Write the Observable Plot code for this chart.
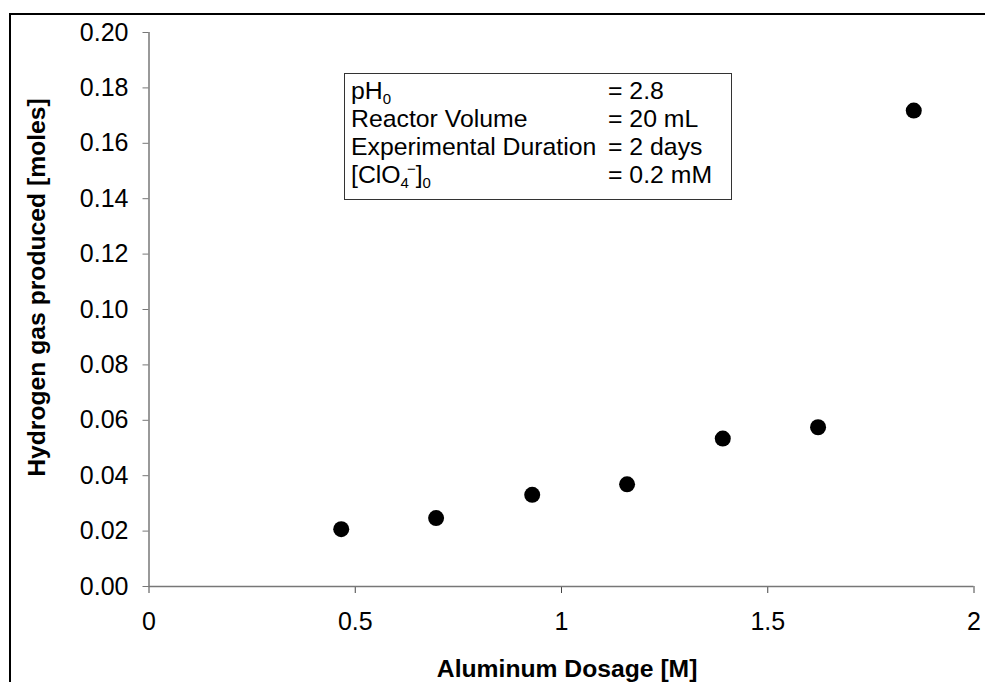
<!DOCTYPE html>
<html><head><meta charset="utf-8">
<script src="https://cdn.jsdelivr.net/npm/d3@7"></script>
<script src="https://cdn.jsdelivr.net/npm/@observablehq/plot@0.6"></script>
<style>
html,body{margin:0;padding:0;background:#fff;overflow:hidden;width:985px;height:682px;}
#wrap{position:relative;width:985px;height:682px;font-family:"Liberation Sans",Arial,sans-serif;color:#000;}
#wrap svg{position:absolute;left:0;top:0;}
#frame{position:absolute;left:9px;top:13px;width:1000px;height:700px;border:2px solid #000;box-sizing:border-box;pointer-events:none;}
#note{position:absolute;left:344px;top:73px;width:388px;height:127px;box-sizing:border-box;border:1px solid #333;background:#fff;font-size:24.8px;line-height:28px;padding:3px 0 0 6px;}
.row{display:flex;white-space:nowrap;}
.k{width:257px;}
sub{font-size:15px;vertical-align:-5px;line-height:0;}
sup{font-size:15px;vertical-align:9px;line-height:0;}
</style>
</head><body>
<div id="wrap"><div id="frame"></div><div id="note"></div></div>
<script>
// Data
const dosage = [0.466, 0.696, 0.929, 1.159, 1.391, 1.622, 1.854];       // Aluminum Dosage [M]
const hydrogen = [0.0207, 0.0247, 0.0331, 0.0369, 0.0534, 0.0575, 0.1718]; // H2 produced [moles]
const xTicks = [0, 0.5, 1, 1.5, 2];
const yTicks = [0, 0.02, 0.04, 0.06, 0.08, 0.10, 0.12, 0.14, 0.16, 0.18, 0.20];
const xLabel = "Aluminum Dosage [M]";
const yLabel = "Hydrogen gas produced [moles]";
const noteKeys = ["pH<sub>0</sub>", "Reactor Volume", "Experimental Duration", "[ClO<sub>4</sub><sup style=\"margin-left:-2px\">\u2212</sup>]<sub>0</sub>"];
const noteVals = ["= 2.8", "= 20 mL", "= 2 days", "= 0.2 mM"];

const data = dosage.map((d, i) => ({dosage: d, hydrogen: hydrogen[i]}));

const chart = Plot.plot({
  width: 985, height: 682,
  marginLeft: 148.5, marginRight: 11.5, marginTop: 32, marginBottom: 96,
  style: {fontFamily: "'Liberation Sans', Arial, sans-serif", fontSize: "25px", color: "#000", background: "transparent"},
  x: {domain: [0, 2]},
  y: {domain: [0, 0.2]},
  marks: [
    Plot.axisY({ticks: yTicks, tickFormat: d3.format(".2f"), tickSize: 6, tickPadding: 14.5, stroke: "#777", label: null, fontSize: 25}),
    Plot.axisX({ticks: xTicks, tickFormat: d => String(d), tickSize: 7, tickPadding: 19, stroke: "#444", label: null, fontSize: 25}),
    Plot.ruleY([0], {stroke: "#777", strokeWidth: 1.5}),
    Plot.ruleX([0], {stroke: "#777", strokeWidth: 1.5}),
    Plot.dot(data, {x: "dosage", y: "hydrogen", r: 8, fill: "#000", stroke: "none"}),
    Plot.text([xLabel], {frameAnchor: "bottom", textAnchor: "middle", lineAnchor: "middle", dx: 5.6, dy: 83, fontWeight: "bold", fontSize: 24.7}),
    Plot.text([yLabel], {frameAnchor: "left", textAnchor: "middle", lineAnchor: "middle", rotate: -90, dx: -112, dy: -22, fontWeight: "bold", fontSize: 24.7})
  ]
});
document.getElementById("wrap").appendChild(chart);
document.getElementById("note").innerHTML = noteKeys.map((k, i) =>
  `<div class="row"><span class="k">${k}</span><span>${noteVals[i]}</span></div>`).join("");
</script>
</body></html>
